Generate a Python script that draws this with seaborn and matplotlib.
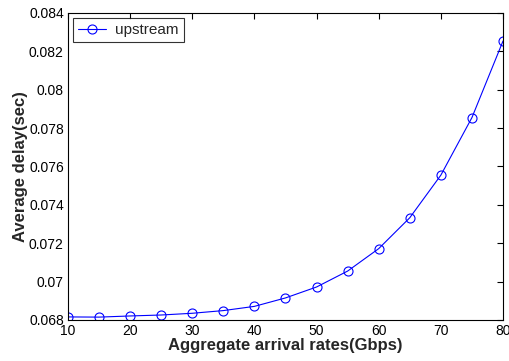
import matplotlib
matplotlib.use("Agg")
import matplotlib.pyplot as plt
import seaborn as sns
import pandas as pd
from matplotlib.ticker import FuncFormatter

rates = [10, 15, 20, 25, 30, 35, 40, 45, 50, 55, 60, 65, 70, 75, 80]
delay = [0.06816, 0.06815, 0.06821, 0.06826, 0.06835, 0.06849, 0.06871,
         0.06915, 0.06972, 0.07055, 0.07172, 0.07333, 0.07555, 0.07855, 0.08254]
series_name = "upstream"
xticks = [10, 20, 30, 40, 50, 60, 70, 80]
yticks = [0.068, 0.070, 0.072, 0.074, 0.076, 0.078, 0.080, 0.082, 0.084]

sns.set_style("white")
plt.rcParams['font.family'] = ['Liberation Sans', 'DejaVu Sans']

df = pd.DataFrame({"rate": rates, "delay": delay})

fig = plt.figure(figsize=(5.10, 3.61), dpi=100)
ax = fig.add_axes([0.1333, 0.1136, 0.8530, 0.8504])

sns.lineplot(data=df, x="rate", y="delay", ax=ax, color="#0000ff",
             marker="o", markersize=6.5, markerfacecolor="none",
             markeredgecolor="#0000ff", markeredgewidth=0.8, linewidth=0.8,
             label=series_name)

ax.set_xlim(10, 80)
ax.set_ylim(0.068, 0.084)
ax.set_xticks(xticks)
ax.set_yticks(yticks)
ax.yaxis.set_major_formatter(FuncFormatter(lambda v, p: f"{v:g}"))
ax.tick_params(direction="in", length=4, width=0.8, top=True, right=True,
               labelsize=10, colors="black", pad=3)
for s in ax.spines.values():
    s.set_color("black")
    s.set_linewidth(0.8)

ax.set_xlabel("Aggregate arrival rates(Gbps)", fontsize=12, fontweight="bold", labelpad=0)
ax.set_ylabel("Average delay(sec)", fontsize=12, fontweight="bold", labelpad=1)

leg = ax.legend(loc="upper left", fontsize=11, frameon=True, fancybox=False,
                borderaxespad=0.36, handlelength=1.85, handletextpad=0.6,
                borderpad=0.3)
leg.get_frame().set_edgecolor("black")
leg.get_frame().set_linewidth(0.8)

fig.savefig("out.png", dpi=100)
